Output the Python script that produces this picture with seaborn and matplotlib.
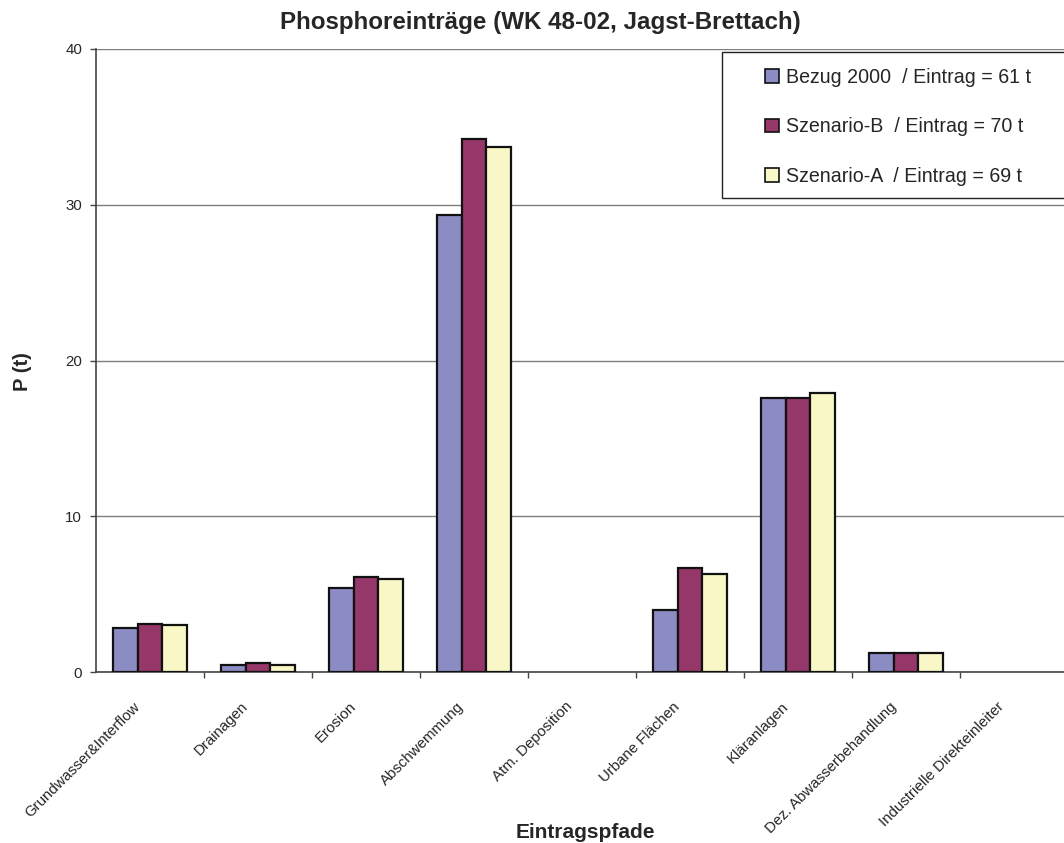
import matplotlib
matplotlib.use("Agg")
import matplotlib.pyplot as plt
import matplotlib.transforms as mtransforms
import seaborn as sns
import pandas as pd
import numpy as np
from matplotlib.ticker import FixedLocator
from matplotlib.patches import Patch, Rectangle

# Eintragspfade (Kategorien) und Phosphor-Einträge je Szenario in t
pfade = ["Grundwasser&Interflow", "Drainagen", "Erosion", "Abschwemmung",
         "Atm. Deposition", "Urbane Flächen", "Kläranlagen",
         "Dez. Abwasserbehandlung", "Industrielle Direkteinleiter"]
bezug_2000 = [2.85, 0.42, 5.4, 29.35, 0.0, 4.0, 17.6, 1.25, 0.0]
szenario_b = [3.1, 0.55, 6.1, 34.2, 0.0, 6.7, 17.6, 1.25, 0.0]
szenario_a = [3.0, 0.45, 6.0, 33.7, 0.0, 6.3, 17.9, 1.25, 0.0]
serien = ["Bezug 2000  / Eintrag = 61 t",
          "Szenario-B  / Eintrag = 70 t",
          "Szenario-A  / Eintrag = 69 t"]
farben = ["#8C8CC4", "#96376A", "#F9F7C6"]
y_ticks = [0, 10, 20, 30, 40]

df = pd.DataFrame({
    "Pfad": pfade * 3,
    "Wert": bezug_2000 + szenario_b + szenario_a,
    "Serie": [serien[0]] * len(pfade) + [serien[1]] * len(pfade) + [serien[2]] * len(pfade),
})

sns.set_theme(style="white")
plt.rcParams["font.family"] = ["Liberation Sans", "DejaVu Sans"]

W, H = 1064, 843
fig = plt.figure(figsize=(W / 100, H / 100), dpi=100)
ax = fig.add_axes([96 / W, 1 - 672 / H, (1068 - 96) / W, (672 - 49) / H])

sns.barplot(data=df, x="Pfad", y="Wert", hue="Serie", hue_order=serien,
            order=pfade, palette=farben, saturation=1, width=0.68,
            edgecolor="#111111", linewidth=1.6, ax=ax, legend=False, zorder=3)

# empty categories carry no visible bar outline
for bar in ax.patches:
    if bar.get_height() == 0:
        bar.set_linewidth(0)

ax.set_ylim(0, 40)
ax.set_xlim(-0.5, len(pfade) - 0.5)
ax.set_yticks(y_ticks)
ax.set_yticklabels([str(v) for v in y_ticks], fontsize=10.8)
ax.yaxis.grid(True, color="#7f7f7f", linewidth=1.0, zorder=0)
ax.set_axisbelow(True)

# category labels centred, tick marks between categories
ax.set_xticks(range(len(pfade)))
ax.set_xticklabels(pfade, rotation=45, ha="right", rotation_mode="anchor", fontsize=10.8)
ax.tick_params(axis="x", which="major", length=0, pad=14)
shift = mtransforms.ScaledTranslation(-0.17, -0.08, fig.dpi_scale_trans)
for lbl in ax.get_xticklabels():
    lbl.set_transform(lbl.get_transform() + shift)
ax.xaxis.set_minor_locator(FixedLocator(np.arange(0.5, len(pfade) - 0.5, 1.0)))
ax.tick_params(axis="x", which="minor", bottom=True, length=4, width=1, color="#444444", direction="out")
ax.tick_params(axis="y", left=True, length=4, width=1, color="#444444", direction="out", pad=6)

for side in ["top", "right"]:
    ax.spines[side].set_visible(False)
for side in ["left", "bottom"]:
    ax.spines[side].set_color("#444444")
    ax.spines[side].set_linewidth(1.2)

ax.set_xlabel("Eintragspfade", fontsize=15, fontweight="bold")
ax.xaxis.set_label_coords(0.503, -0.242)
ax.set_ylabel("P (t)", fontsize=14.5, fontweight="bold")
ax.yaxis.set_label_coords(-0.066, 0.4815)
fig.text(540.5 / W, 1 - 23 / H, "Phosphoreinträge (WK 48-02, Jagst-Brettach)",
         ha="center", va="center", fontsize=17.4, fontweight="bold")

# legend box reaching past the right figure edge
fig.patches.append(Rectangle((722 / W, 1 - 198 / H), 360 / W, 146 / H,
                             transform=fig.transFigure, facecolor="white",
                             edgecolor="#222222", linewidth=1.0, zorder=5))
handles = [Patch(facecolor=c, edgecolor="#111111", linewidth=1.2) for c in farben]
leg = fig.legend(handles, serien, loc="upper left",
                 bbox_to_anchor=(765 / W, 1 - 68 / H),
                 fontsize=14.1, frameon=False,
                 handlelength=0.7, handleheight=0.7,
                 handletextpad=0.35, labelspacing=1.55, borderpad=0,
                 borderaxespad=0)
leg.set_zorder(6)

fig.savefig("out.png", dpi=100)
